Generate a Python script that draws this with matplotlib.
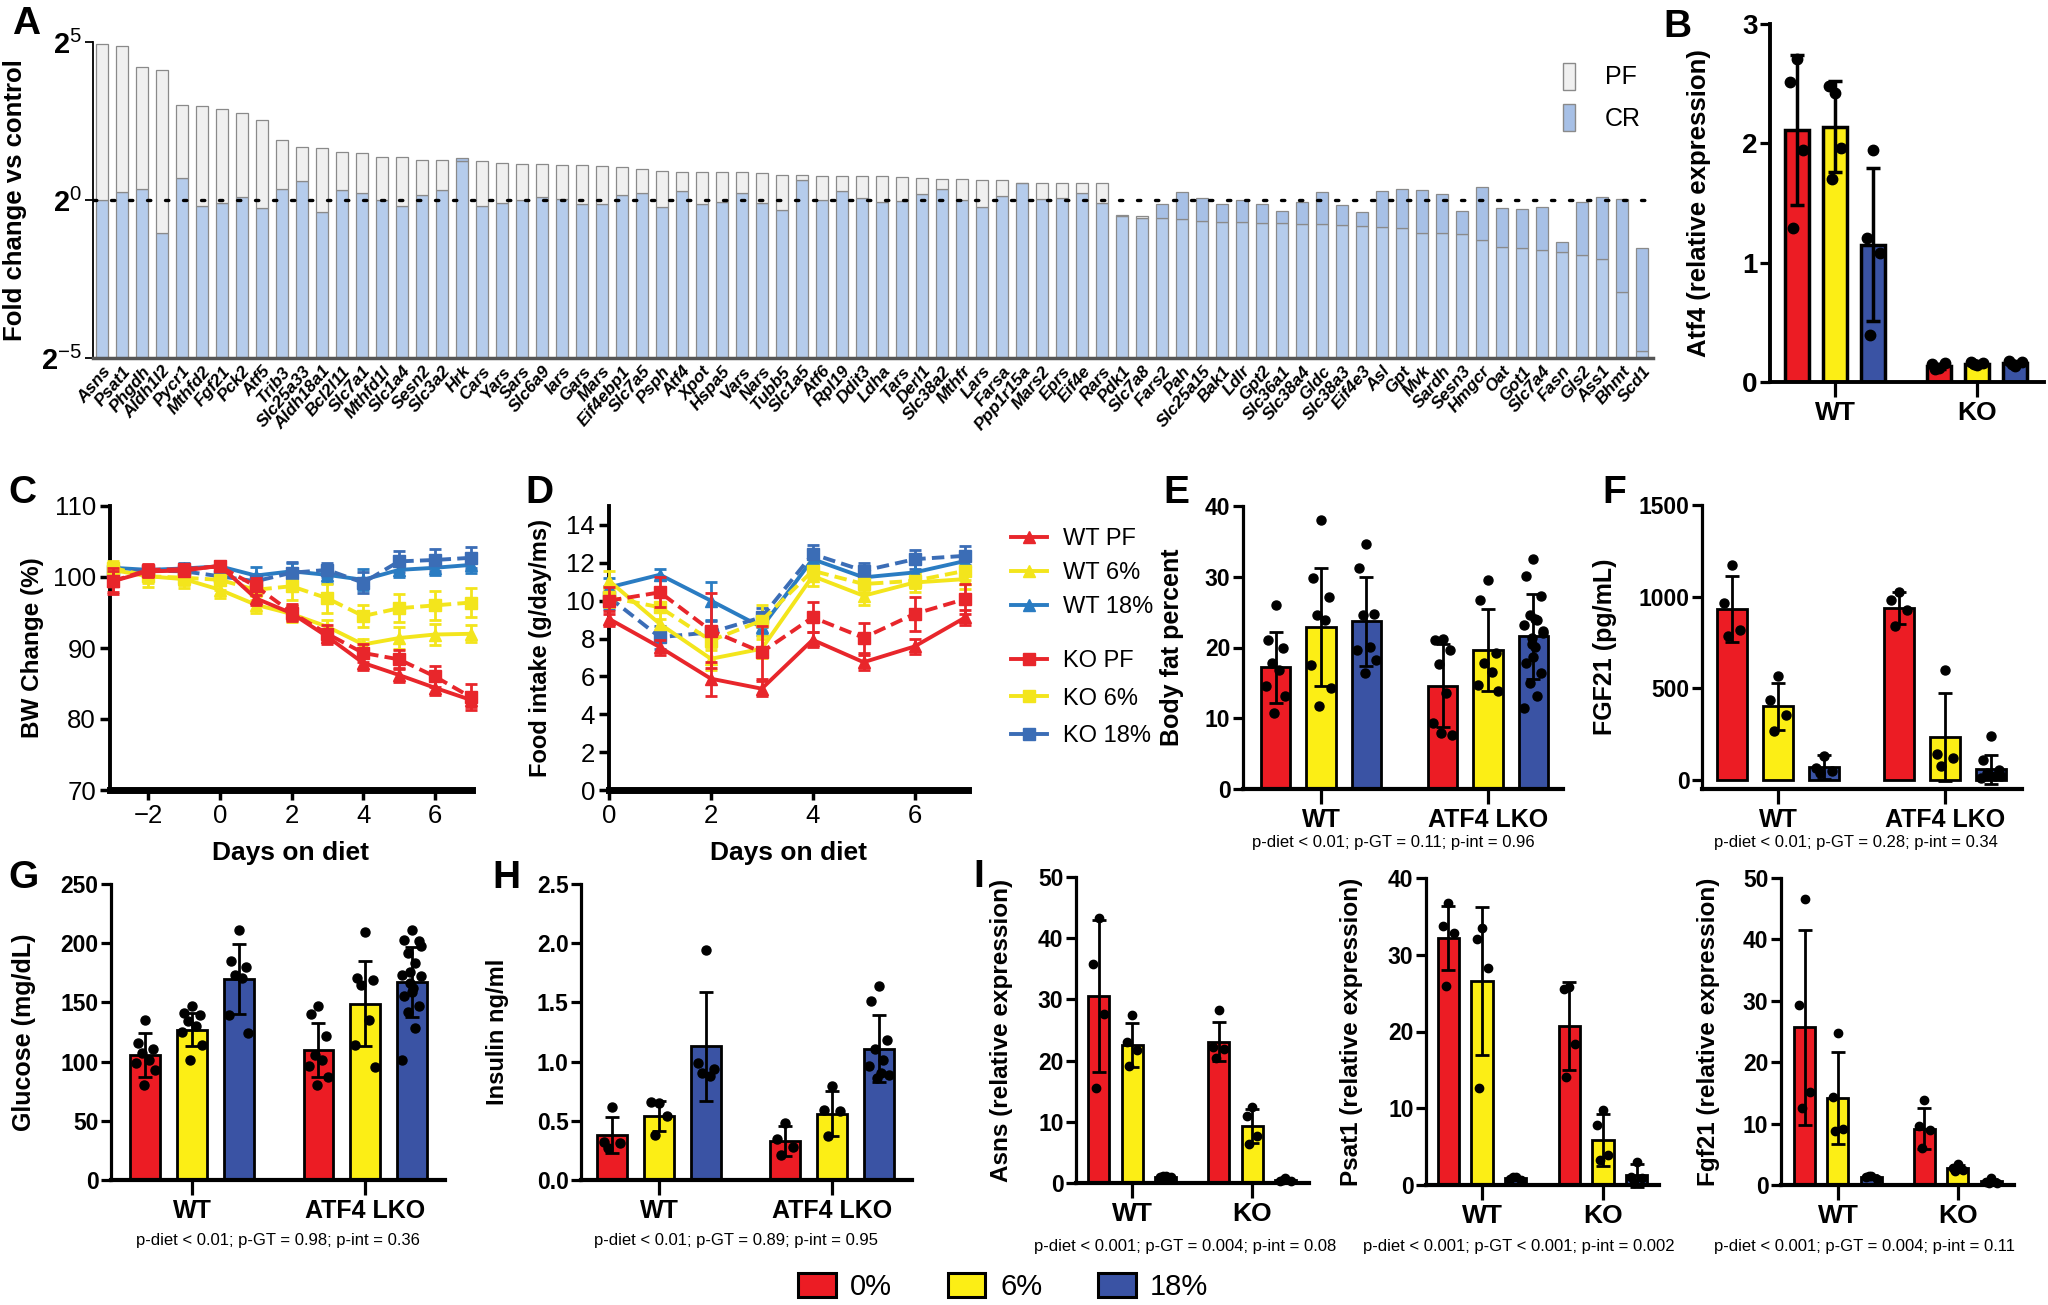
import numpy as np
import matplotlib
matplotlib.use('Agg')
import matplotlib.pyplot as plt
from matplotlib.patches import Patch
from matplotlib.lines import Line2D

# ---------------- DATA ----------------
genes = ["Asns", "Psat1", "Phgdh", "Aldh1l2", "Pycr1", "Mthfd2", "Fgf21", "Pck2", "Atf5", "Trib3",
         "Slc25a33", "Aldh18a1", "Bcl2l11", "Slc7a1", "Mthfd1l", "Slc1a4", "Sesn2", "Slc3a2", "Hrk", "Cars",
         "Yars", "Sars", "Slc6a9", "Iars", "Gars", "Mars", "Eif4ebp1", "Slc7a5", "Psph", "Atf4",
         "Xpot", "Hspa5", "Vars", "Nars", "Tubb5", "Slc1a5", "Atf6", "Rpl19", "Ddit3", "Ldha",
         "Tars", "Derl1", "Slc38a2", "Mthfr", "Lars", "Farsa", "Ppp1r15a", "Mars2", "Eprs", "Eif4e",
         "Rars", "Pdk1", "Slc7a8", "Fars2", "Pah", "Slc25a15", "Bak1", "Ldlr", "Gpt2", "Slc36a1",
         "Slc38a4", "Gldc", "Slc38a3", "Eif4e3", "Asl", "Gpt", "Mvk", "Sardh", "Sesn3", "Hmgcr",
         "Oat", "Got1", "Slc7a4", "Fasn", "Gls2", "Ass1", "Bhmt", "Scd1"]
pf_log2 = [4.95, 4.86, 4.22, 4.10, 3.02, 2.98, 2.89, 2.75, 2.54, 1.90,
           1.69, 1.65, 1.53, 1.48, 1.35, 1.35, 1.26, 1.26, 1.24, 1.22,
           1.16, 1.14, 1.14, 1.12, 1.12, 1.08, 1.04, 0.97, 0.93, 0.88,
           0.88, 0.88, 0.88, 0.85, 0.80, 0.80, 0.77, 0.75, 0.75, 0.75,
           0.73, 0.70, 0.66, 0.66, 0.64, 0.62, 0.55, 0.55, 0.55, 0.54,
           0.54, -0.50, -0.51, -0.58, -0.60, -0.66, -0.69, -0.69, -0.72, -0.72,
           -0.76, -0.76, -0.79, -0.82, -0.85, -0.90, -1.03, -1.03, -1.07, -1.26,
           -1.50, -1.53, -1.58, -1.64, -1.73, -1.88, -2.90, -4.79]
cr_log2 = [0.0, 0.26, 0.34, -1.03, 0.69, -0.19, -0.08, 0.10, -0.26, 0.34,
           0.61, -0.37, 0.32, 0.21, 0.0, -0.18, 0.15, 0.31, 1.33, -0.19,
           -0.08, 0.0, 0.11, 0.02, -0.13, -0.14, 0.16, 0.23, -0.21, 0.29,
           -0.14, -0.07, 0.21, -0.11, -0.32, 0.62, 0.0, 0.29, 0.07, -0.05,
           -0.03, 0.19, 0.35, 0.0, -0.21, 0.12, 0.53, 0.04, 0.07, 0.23,
           -0.11, -0.48, -0.58, -0.13, 0.24, 0.06, -0.12, -0.01, -0.12, -0.36,
           -0.07, 0.25, -0.16, -0.37, 0.30, 0.35, 0.32, 0.18, -0.35, 0.41,
           -0.26, -0.30, -0.21, -1.32, -0.07, 0.10, 0.02, -1.52]

diet_labels = ["0%", "6%", "18%"]
b_groups = ["WT", "KO"]
b_means = [2.11, 2.14, 1.15, 0.13, 0.15, 0.16]
b_sd = [0.63, 0.38, 0.64, 0.02, 0.02, 0.02]
b_pts = [[2.71, 2.51, 1.94, 1.29], [2.42, 2.48, 1.96, 1.70], [1.94, 1.21, 1.08, 0.39],
         [0.12, 0.15, 0.16, 0.11], [0.14, 0.17, 0.16, 0.15], [0.13, 0.18, 0.17, 0.15]]

c_days = [-3, -2, -1, 0, 1, 2, 3, 4, 5, 6, 7]
c_series = ["WT PF", "WT 6%", "WT 18%", "KO PF", "KO 6%", "KO 18%"]
c_vals = [
    [99.4, 100.8, 100.9, 101.6, 97.0, 94.9, 91.6, 87.9, 86.2, 84.4, 82.7],
    [101.0, 100.1, 99.7, 98.2, 96.1, 94.8, 93.0, 90.5, 91.4, 91.9, 92.0],
    [101.3, 101.0, 101.2, 101.5, 100.2, 100.8, 100.3, 99.6, 101.0, 101.3, 101.7],
    [99.4, 101.0, 101.1, 101.5, 98.7, 95.0, 92.0, 89.3, 88.4, 86.0, 83.1],
    [101.3, 100.1, 99.9, 99.6, 98.2, 98.7, 97.0, 94.5, 95.6, 96.0, 96.4],
    [100.8, 100.9, 100.8, 100.1, 99.4, 100.6, 101.0, 99.2, 102.2, 102.4, 102.7],
]
c_err = [
    [1.5, 0.8, 0.8, 0.7, 1.0, 1.0, 1.0, 1.0, 1.0, 1.0, 1.0],
    [1.0, 1.5, 1.2, 1.2, 1.2, 1.2, 1.0, 0.8, 1.5, 1.5, 1.2],
    [0.6, 0.6, 0.8, 0.6, 1.2, 1.2, 1.2, 1.5, 1.0, 1.0, 1.2],
    [1.8, 0.8, 0.8, 0.6, 1.2, 1.2, 1.2, 1.3, 1.3, 1.5, 1.8],
    [1.0, 1.0, 1.0, 1.5, 1.5, 2.0, 2.0, 1.5, 2.0, 2.0, 2.0],
    [1.0, 0.6, 0.8, 0.8, 1.0, 1.5, 1.0, 1.5, 1.5, 1.5, 1.5],
]
d_days = [0, 1, 2, 3, 4, 5, 6, 7]
d_vals = [
    [9.04, 7.54, 5.88, 5.35, 7.93, 6.75, 7.58, 9.12],
    [11.05, 8.77, 6.93, 7.46, 11.3, 10.26, 10.96, 11.14],
    [10.7, 11.37, 10.0, 8.6, 12.19, 11.23, 11.49, 12.1],
    [10.0, 10.44, 8.42, 7.28, 9.12, 8.04, 9.30, 10.09],
    [10.18, 9.65, 7.89, 8.95, 11.58, 10.88, 11.05, 11.58],
    [10.18, 8.07, 8.33, 9.12, 12.46, 11.58, 12.19, 12.37],
]
d_err = [
    [0.4, 0.4, 0.9, 0.4, 0.4, 0.4, 0.4, 0.4],
    [0.5, 0.7, 0.6, 0.5, 0.5, 0.5, 0.5, 0.5],
    [0.5, 0.3, 1.0, 0.4, 0.5, 0.4, 0.5, 0.5],
    [0.7, 0.8, 2.0, 1.4, 0.8, 0.8, 0.9, 0.8],
    [0.5, 0.6, 0.5, 0.8, 0.4, 0.4, 0.4, 0.5],
    [0.6, 0.6, 0.6, 0.5, 0.5, 0.4, 0.5, 0.5],
]

lko_groups = ["WT", "ATF4 LKO"]
e_means = [17.2, 22.9, 23.7, 14.6, 19.6, 21.6]
e_sd = [5.0, 8.3, 6.3, 5.9, 5.8, 6.0]
e_pts = [[26.0, 21.0, 19.9, 17.8, 16.8, 14.5, 13.1, 10.7],
         [38.0, 29.8, 27.2, 24.6, 23.9, 17.5, 14.3, 11.7],
         [34.6, 31.2, 24.8, 24.6, 20.1, 19.7, 18.3, 16.4],
         [21.2, 21.0, 19.7, 17.6, 13.6, 9.3, 7.7, 7.9],
         [29.6, 26.7, 19.2, 17.8, 16.6, 14.7, 13.8],
         [32.5, 30.1, 27.3, 24.6, 23.9, 23.2, 22.3, 21.3, 20.1, 18.7, 17.8, 16.4, 15.0, 13.1, 11.4, 22.0, 20.5, 24.0]]
f_means = [932, 400, 69, 937, 233, 58]
f_sd = [178, 128, 68, 88, 240, 79]
f_pts = [[1174, 965, 819, 783], [564, 437, 355, 264], [127, 64, 46, 36],
         [1023, 983, 928, 837], [597, 140, 120, 75], [237, 109, 55, 36, 18, 9, 18, 27]]
g_means = [105.7, 126.8, 169.7, 109.9, 148.8, 166.9]
g_sd = [18.5, 14.0, 29.3, 22.7, 36.0, 29.6]
g_pts = [[135.3, 116.1, 110.5, 107.0, 101.5, 99.2, 93.0, 80.3],
         [147.1, 140.9, 139.5, 133.9, 129.7, 125.4, 114.2, 101.5],
         [211.4, 184.6, 179.5, 173.3, 170.5, 139.5, 124.0],
         [147.1, 140.4, 121.2, 105.7, 101.5, 96.4, 87.4, 80.3],
         [209.1, 170.5, 169.1, 164.3, 135.3, 114.2, 95.8],
         [210.8, 202.9, 201.5, 191.7, 183.2, 173.3, 171.9, 166.3, 162.1, 159.2, 155.0, 146.6, 142.3, 128.2, 101.5, 198.0, 176.0]]
h_means = [0.38, 0.54, 1.13, 0.33, 0.56, 1.11]
h_sd = [0.15, 0.13, 0.46, 0.13, 0.19, 0.28]
h_pts = [[0.62, 0.32, 0.31, 0.27], [0.65, 0.66, 0.54, 0.38], [1.94, 0.99, 0.94, 0.90, 0.88],
         [0.48, 0.35, 0.28, 0.21], [0.79, 0.59, 0.58, 0.37], [1.64, 1.51, 1.18, 1.11, 1.01, 0.96, 0.89, 0.86, 0.90]]
i1_means = [30.5, 22.6, 1.0, 23.1, 9.3, 0.5]
i1_sd = [12.4, 3.6, 0.2, 3.2, 2.8, 0.2]
i1_pts = [[43.3, 35.8, 27.6, 15.5], [27.4, 23.1, 21.7, 19.1], [1.2, 1.0, 0.9, 1.1],
          [28.2, 22.3, 21.9, 20.5], [12.5, 10.9, 7.6, 6.4], [0.8, 0.4, 0.3, 0.5]]
i2_means = [32.2, 26.6, 0.9, 20.7, 5.9, 1.3]
i2_sd = [4.2, 9.6, 0.2, 5.7, 3.4, 1.5]
i2_pts = [[36.7, 33.7, 32.8, 25.9], [33.5, 32.0, 28.3, 12.7], [1.1, 0.8, 0.7, 1.0],
          [25.8, 25.5, 18.4, 14.1], [9.8, 7.8, 3.9, 3.3], [3.0, 1.1, 0.9, 0.2]]
i3_means = [25.7, 14.1, 1.3, 9.2, 2.7, 0.6]
i3_sd = [15.9, 7.5, 0.3, 3.4, 0.6, 0.4]
i3_pts = [[46.6, 29.3, 15.2, 12.5], [24.8, 14.4, 9.1, 8.8], [1.5, 1.3, 1.0, 1.4],
          [13.9, 9.6, 8.9, 6.0], [3.5, 2.8, 2.4, 2.2], [1.2, 0.5, 0.3, 0.4]]

p_texts = {
    "E": "p-diet < 0.01; p-GT = 0.11; p-int = 0.96",
    "F": "p-diet < 0.01; p-GT = 0.28; p-int = 0.34",
    "G": "p-diet < 0.01; p-GT = 0.98; p-int = 0.36",
    "H": "p-diet < 0.01; p-GT = 0.89; p-int = 0.95",
    "I1": "p-diet < 0.001; p-GT = 0.004; p-int = 0.08",
    "I2": "p-diet < 0.001; p-GT < 0.001; p-int = 0.002",
    "I3": "p-diet < 0.001; p-GT = 0.004; p-int = 0.11",
}

# ---------------- STYLE ----------------
plt.rcParams['font.family'] = ['Liberation Sans', 'DejaVu Sans']
plt.rcParams['mathtext.fontset'] = 'custom'
plt.rcParams['mathtext.rm'] = 'Liberation Sans'
plt.rcParams['mathtext.bf'] = 'Liberation Sans:bold'
plt.rcParams['mathtext.it'] = 'Liberation Sans:italic'
NARROW = ['Liberation Sans Narrow', 'Liberation Sans', 'DejaVu Sans']

RED, YEL, BLU = '#ec1c24', '#fcee15', '#3a53a4'
BAR_COLS = [RED, YEL, BLU]
LINE_COLS = ['#e8262b', '#f3e51c', '#2a7cc2', '#e8262b', '#f3e51c', '#3b6db6']

W, H = 2048, 1305
fig = plt.figure(figsize=(W / 100, H / 100), dpi=100)


def add_ax(l, t, r, b):
    return fig.add_axes([l / W, 1 - b / H, (r - l) / W, (b - t) / H])


def ftext(x, y, s, **kw):
    fig.text(x / W, 1 - y / H, s, **kw)


def letter(x, y, s):
    ftext(x, y, s, fontsize=28, fontweight='bold', family=NARROW, ha='center', va='center')


# ---------------- PANEL A ----------------
axA = add_ax(93, 42, 1653, 358)
xA = np.arange(len(genes))
base = 2.0 ** -5
pf_fc = 2.0 ** np.array(pf_log2)
cr_fc = 2.0 ** np.array(cr_log2)
low = np.minimum(pf_fc, cr_fc)
high = np.maximum(pf_fc, cr_fc)
up_cols = ['#f0f0f0' if p >= c else '#a7c0e6' for p, c in zip(pf_fc, cr_fc)]
axA.bar(xA, low - base, bottom=base, width=0.62, color='#b5ccec', edgecolor='#8a8a8a', lw=0.9, zorder=2)
axA.bar(xA, high - low, bottom=low, width=0.62, color=up_cols, edgecolor='#8a8a8a', lw=0.9, zorder=2)
axA.set_yscale('log', base=2)
axA.set_ylim(base, 2 ** 5)
axA.set_xlim(-0.45, 77.55)
axA.axhline(1, color='black', ls=(0, (1.0, 4.4)), lw=2.4, dash_capstyle='round', zorder=3)
axA.set_yticks([2 ** -5, 1, 2 ** 5])
axA.set_yticklabels([r'$\mathbf{2}^{\mathrm{-5}}$', r'$\mathbf{2}^{\mathrm{0}}$', r'$\mathbf{2}^{\mathrm{5}}$'],
                    fontsize=21)
axA.minorticks_off()
axA.set_xticks(xA)
axA.set_xticklabels(genes, rotation=50, ha='right', rotation_mode='anchor', fontsize=12.5,
                    fontstyle='italic', fontweight='bold')
axA.tick_params(axis='x', length=0, pad=4)
axA.tick_params(axis='y', length=6, width=1.3, pad=2)
for s in ['top', 'right']:
    axA.spines[s].set_visible(False)
axA.spines['bottom'].set_color('#555555')
axA.spines['bottom'].set_linewidth(2.5)
axA.spines['left'].set_linewidth(1.3)
axA.set_ylabel('Fold change vs control', fontsize=18.5, fontweight='bold')
axA.yaxis.set_label_coords((27 - 93) / 1560, 0.5)
fig.legend(handles=[Patch(fc='#f0f0f0', ec='#8a8a8a', lw=1), Patch(fc='#a7c0e6', ec='#8a8a8a', lw=1)],
           labels=['PF', 'CR'], loc='upper left', bbox_to_anchor=(1540 / W, 1 - 40 / H),
           frameon=False, handlelength=0.5, handleheight=1.3, handletextpad=1.2, labelspacing=0.55,
           prop={'family': NARROW, 'size': 18})
letter(26, 24, 'A')


# ---------------- helpers for bar panels ----------------
def jitter(n):
    pat = [0.0, -0.26, 0.26, -0.13, 0.13, -0.33, 0.33, -0.06, 0.06]
    return np.array([pat[i % len(pat)] for i in range(n)])


def bar_panel(ax, means, sds, pts, groups, off, width, ylim, yticks, ylabel, ylab_x,
              tick_fs=16.5, xt_fs=18, lab_fs=17, fmt=None, ms=6.5, lw=2.0, bold_ticks=True):
    pos = [g + o for g in range(2) for o in (-off, 0, off)]
    cols = BAR_COLS * 2
    ax.bar(pos, means, width, color=cols, edgecolor='black', lw=lw, zorder=2)
    for p, ys in zip(pos, pts):
        ax.plot(p + jitter(len(ys)) * width, ys, 'o', color='black', ms=ms, zorder=3, clip_on=False)
    ax.errorbar(pos, means, yerr=sds, fmt='none', ecolor='black', elinewidth=lw, capsize=width * 28,
                capthick=lw, zorder=4, clip_on=False)
    ax.set_ylim(*ylim)
    ax.set_yticks(yticks)
    if fmt:
        ax.set_yticklabels([fmt.format(t) for t in yticks])
    ax.set_xticks([0, 1])
    ax.set_xticklabels(groups)
    for s in ['top', 'right']:
        ax.spines[s].set_visible(False)
    ax.spines['left'].set_linewidth(2.3)
    ax.spines['bottom'].set_linewidth(3.0)
    ax.tick_params(axis='y', length=7, width=2.3, pad=2)
    ax.tick_params(axis='x', length=11, width=2.3, pad=3)
    for t in ax.get_yticklabels():
        t.set_family(NARROW)
        t.set_fontsize(tick_fs)
        t.set_fontweight('bold' if bold_ticks else 'normal')
    for t in ax.get_xticklabels():
        t.set_family(NARROW)
        t.set_fontsize(xt_fs)
        t.set_fontweight('bold')
    ax.set_ylabel(ylabel, fontsize=lab_fs, fontweight='bold')
    ax.yaxis.set_label_coords(ylab_x, 0.5)


# ---------------- PANEL B ----------------
axB = add_ax(1770, 24, 2044, 382)
bar_panel(axB, b_means, b_sd, b_pts, b_groups, 0.271, 0.169, (0, 3), [0, 1, 2, 3],
          'Atf4 (relative expression)', -0.215, tick_fs=20, xt_fs=19, lab_fs=18.5, ms=7.5, lw=2.5)
for t in axB.get_yticklabels():
    t.set_family(['Liberation Sans', 'DejaVu Sans'])
for t in axB.get_xticklabels():
    t.set_family(['Liberation Sans', 'DejaVu Sans'])
axB.spines['left'].set_linewidth(2.8)
axB.spines['bottom'].set_linewidth(2.8)
axB.set_xlim(-0.458, 1.472)
letter(1677, 27, 'B')


# ---------------- PANELS C, D ----------------
def line_panel(ax, days, vals, errs):
    order = [2, 5, 1, 4, 3, 0]
    for i in order:
        ls = '-' if i < 3 else (0, (3.2, 1.6))
        mk = '^' if i < 3 else 's'
        ax.errorbar(days, vals[i], yerr=errs[i], color=LINE_COLS[i], ls=ls, lw=2.8, marker=mk, ms=8,
                    elinewidth=2.0, capsize=4, capthick=2.0, zorder=3 + (i % 3 == 0), clip_on=False)
    for s in ['top', 'right']:
        ax.spines[s].set_visible(False)
    ax.spines['left'].set_linewidth(2.8)
    ax.spines['bottom'].set_linewidth(5.0)
    ax.tick_params(axis='both', length=7, width=2.5, pad=3)
    for t in ax.get_xticklabels() + ax.get_yticklabels():
        t.set_family(NARROW)
        t.set_fontsize(18.5)
    ax.set_xlabel('Days on diet', fontsize=19, fontweight='bold', family=NARROW)


axC = add_ax(110, 506, 472, 790)
axC.set_xlim(-3.07, 7.04)
axC.set_ylim(70, 110)
axC.set_yticks([70, 80, 90, 100, 110])
axC.set_xticks([-2, 0, 2, 4, 6])
line_panel(axC, c_days, c_vals, c_err)
axC.set_ylabel('BW Change (%)', fontsize=17.5, fontweight='bold')
axC.yaxis.set_label_coords((44 - 110) / 362, 0.5)
axC.xaxis.set_label_coords(0.5, -(853 - 790) / 284)
axC.xaxis.label.set_va('center')
letter(22, 493, 'C')

axD = add_ax(609, 506, 968, 790)
axD.set_xlim(0, 7.05)
axD.set_ylim(0, 15)
axD.set_yticks([0, 2, 4, 6, 8, 10, 12, 14])
axD.set_xticks([0, 2, 4, 6])
line_panel(axD, d_days, d_vals, d_err)
axD.set_ylabel('Food intake (g/day/ms)', fontsize=17, fontweight='bold')
axD.yaxis.set_label_coords((552 - 609) / 359, 0.5)
axD.xaxis.set_label_coords(0.5, -(853 - 790) / 284)
axD.xaxis.label.set_va('center')
letter(539, 493, 'D')

wt_h = [Line2D([], [], color=LINE_COLS[i], lw=2.8, marker='^', ms=9) for i in range(3)]
ko_h = [Line2D([], [], color=LINE_COLS[i], lw=2.8, marker='s', ms=9) for i in range(3, 6)]
fig.legend(handles=wt_h, labels=c_series[:3], loc='upper left', bbox_to_anchor=(990 / W, 1 - 507 / H),
           frameon=False, handlelength=1.5, handletextpad=0.7, labelspacing=0.5, fontsize=17)
fig.legend(handles=ko_h, labels=c_series[3:], loc='upper left', bbox_to_anchor=(990 / W, 1 - 629 / H),
           frameon=False, handlelength=1.5, handletextpad=0.7, labelspacing=0.65, fontsize=17)

# ---------------- PANELS E, F ----------------
axE = add_ax(1243, 506, 1563, 789)
bar_panel(axE, e_means, e_sd, e_pts, lko_groups, 0.272, 0.174, (0, 40), [0, 10, 20, 30, 40],
          'Body fat percent', (1184 - 1243) / 320, lab_fs=18)
axE.set_xlim(-0.467, 1.449)
letter(1176, 493, 'E')
ftext(1393, 843, p_texts["E"], fontsize=12, family=NARROW, ha='center', va='center')

axF = add_ax(1702, 505, 2022, 789)
bar_panel(axF, f_means, f_sd, f_pts, lko_groups, 0.275, 0.18, (-51, 1500), [0, 500, 1000, 1500],
          'FGF21 (pg/mL)', (1617 - 1702) / 320, lab_fs=18)
axF.set_xlim(-0.455, 1.461)
letter(1614, 493, 'F')
ftext(1856, 843, p_texts["F"], fontsize=12, family=NARROW, ha='center', va='center')

# ---------------- PANELS G, H ----------------
axG = add_ax(111, 884, 445, 1180)
bar_panel(axG, g_means, g_sd, g_pts, lko_groups, 0.269, 0.173, (0, 250), [0, 50, 100, 150, 200, 250],
          'Glucose (mg/dL)', (36 - 111) / 334, lab_fs=18)
axG.set_xlim(-0.468, 1.462)
letter(24, 878, 'G')
ftext(278, 1240, p_texts["G"], fontsize=12, family=NARROW, ha='center', va='center')

axH = add_ax(581, 884, 912, 1180)
bar_panel(axH, h_means, h_sd, h_pts, lko_groups, 0.272, 0.173, (0, 2.5), [0, 0.5, 1.0, 1.5, 2.0, 2.5],
          'Insulin ng/ml', (509 - 581) / 331, fmt='{:.1f}', lab_fs=17)
axH.set_xlim(-0.451, 1.462)
letter(506, 878, 'H')
ftext(736, 1240, p_texts["H"], fontsize=12, family=NARROW, ha='center', va='center')

# ---------------- PANEL I ----------------
axI1 = add_ax(1076, 877, 1309, 1183)
bar_panel(axI1, i1_means, i1_sd, i1_pts, b_groups, 0.279, 0.175, (0, 50), [0, 10, 20, 30, 40, 50],
          'Asns (relative expression)', (1013 - 1076) / 233, lab_fs=17.5, xt_fs=19, ms=6)
axI1.set_xlim(-0.467, 1.475)
ftext(1185, 1246, p_texts["I1"], fontsize=12, family=NARROW, ha='center', va='center')

axI2 = add_ax(1426, 878, 1659, 1185)
bar_panel(axI2, i2_means, i2_sd, i2_pts, b_groups, 0.279, 0.175, (0, 40), [0, 10, 20, 30, 40],
          'Psat1 (relative expression)', (1363 - 1426) / 233, lab_fs=17.5, xt_fs=19, ms=6)
axI2.set_xlim(-0.463, 1.463)
ftext(1519, 1246, p_texts["I2"], fontsize=12, family=NARROW, ha='center', va='center')

axI3 = add_ax(1781, 878, 2014, 1185)
bar_panel(axI3, i3_means, i3_sd, i3_pts, b_groups, 0.279, 0.175, (0, 50), [0, 10, 20, 30, 40, 50],
          'Fgf21 (relative expression)', (1720 - 1781) / 233, lab_fs=17.5, xt_fs=19, ms=6)
axI3.set_xlim(-0.475, 1.467)
ftext(1864, 1246, p_texts["I3"], fontsize=12, family=NARROW, ha='center', va='center')
letter(979, 877, 'I')

# ---------------- bottom legend ----------------
fig.legend(handles=[Patch(fc=c, ec='black', lw=2.2) for c in BAR_COLS], labels=diet_labels,
           loc='center', bbox_to_anchor=(1003 / W, 1 - 1287 / H), ncol=3, frameon=False,
           handlelength=1.3, handleheight=0.85, handletextpad=0.5, columnspacing=1.9,
           prop={'family': NARROW, 'size': 21})

fig.savefig('out.png', dpi=100)
